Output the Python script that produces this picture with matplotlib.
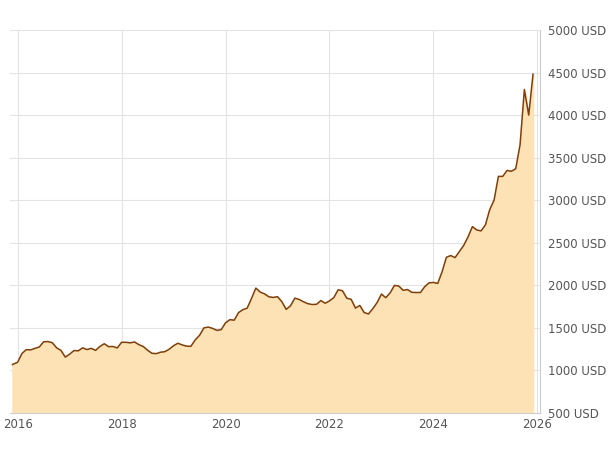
import matplotlib
matplotlib.use("Agg")
import matplotlib.pyplot as plt
import numpy as np

years = list(range(2016, 2026))
prices = [
 [1097,1200,1245,1242,1260,1276,1337,1340,1326,1266,1236,1157],
 [1192,1234,1231,1266,1246,1260,1236,1283,1314,1280,1282,1265],
 [1331,1331,1325,1335,1303,1282,1238,1202,1198,1215,1221,1250],
 [1291,1320,1300,1286,1284,1360,1413,1500,1510,1495,1471,1480],
 [1560,1597,1591,1680,1715,1732,1847,1968,1921,1900,1866,1858],
 [1867,1808,1718,1760,1850,1834,1807,1785,1775,1777,1821,1790],
 [1817,1856,1948,1937,1849,1836,1733,1764,1681,1664,1726,1798],
 [1898,1855,1912,1999,1992,1942,1951,1918,1916,1916,1985,2030],
 [2034,2023,2160,2330,2350,2326,2398,2470,2570,2690,2650,2640],
 [2710,2890,3000,3280,3280,3350,3340,3370,3650,4300,4000,4480],
]
x = [2015.9] + [y + m/12 for y in years for m in range(12)]
v = [1070] + [p for row in prices for p in row]
x, v = np.array(x), np.array(v)

fig = plt.figure(figsize=(6.15, 4.61), dpi=100)
ax = fig.add_axes([0.016, 0.104, 0.862, 0.831])
ax.fill_between(x, 500, v, color="#fde2b6", zorder=2)
ax.plot(x, v, color="#7f3f0a", lw=1.1, zorder=3)
ax.set_xlim(2015.85, 2026.05)
ax.set_ylim(500, 5000)
ax.set_xticks([2016, 2018, 2020, 2022, 2024, 2026])
ax.set_yticks(range(500, 5001, 500))
ax.set_yticklabels([f"{t} USD" for t in range(500, 5001, 500)])
ax.yaxis.tick_right()
ax.tick_params(length=0, labelsize=8.5, colors="#555555")
ax.tick_params(axis="y", pad=6)
ax.grid(True, color="#e3e3e3", lw=0.8, zorder=0)
for s in ["top", "left"]:
    ax.spines[s].set_visible(False)
for s in ["bottom", "right"]:
    ax.spines[s].set_color("#cccccc")
fig.savefig("out.png", dpi=100)
